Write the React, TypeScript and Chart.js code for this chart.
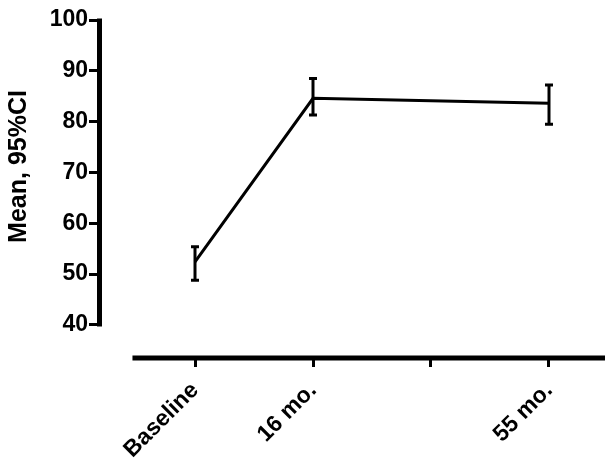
import React, { useEffect, useRef } from "react";
import { Chart, registerables } from "chart.js";

Chart.register(...registerables);

// ---- data ----
const categories = ["Baseline", "16 mo.", "", "55 mo."];
const means: (number | null)[] = [52.4, 84.6, null, 83.6];
const upper: (number | null)[] = [55.4, 88.5, null, 87.2];
const lower: (number | null)[] = [48.8, 81.3, null, 79.5];
const yTicks = [40, 50, 60, 70, 80, 90, 100];
const yTitle = "Mean, 95%CI";

const FONT = "'Liberation Sans', Arial, sans-serif";

const axisLinesPlugin = {
  id: "axisLines",
  afterDraw(chart: any) {
    const { ctx, chartArea, scales } = chart;
    const y = scales.y;
    const x = scales.x;
    ctx.save();
    ctx.strokeStyle = "#000";
    ctx.fillStyle = "#000";
    ctx.lineCap = "butt";
    // y axis line (from first to last tick)
    ctx.lineWidth = 5;
    const yTop = y.getPixelForValue(yTicks[yTicks.length - 1]);
    const yBot = y.getPixelForValue(yTicks[0]);
    ctx.beginPath();
    ctx.moveTo(chartArea.left + 0.5, yTop - 1.5);
    ctx.lineTo(chartArea.left + 0.5, yBot + 1.5);
    ctx.stroke();
    // x axis line (offset from y axis)
    ctx.lineWidth = 5;
    ctx.beginPath();
    ctx.moveTo(x.getPixelForValue(-0.53), chartArea.bottom);
    ctx.lineTo(chart.width, chartArea.bottom);
    ctx.stroke();
    // y axis title, centred on the tick range
    ctx.font = `bold 25px ${FONT}`;
    ctx.textAlign = "center";
    ctx.textBaseline = "middle";
    ctx.translate(19, (yTop + yBot) / 2 - 6);
    ctx.rotate(-Math.PI / 2);
    ctx.fillText(yTitle, 0, 0);
    ctx.restore();
  },
};

const errorBarsPlugin = {
  id: "errorBars",
  afterDatasetsDraw(chart: any) {
    const { ctx, scales } = chart;
    const x = scales.x;
    const y = scales.y;
    ctx.save();
    ctx.strokeStyle = "#000";
    ctx.lineWidth = 3;
    ctx.lineCap = "butt";
    categories.forEach((_, i) => {
      const lo = lower[i];
      const hi = upper[i];
      if (lo == null || hi == null) return;
      const px = x.getPixelForValue(i);
      const pLo = y.getPixelForValue(lo);
      const pHi = y.getPixelForValue(hi);
      ctx.beginPath();
      ctx.moveTo(px, pHi);
      ctx.lineTo(px, pLo);
      ctx.stroke();
      ctx.beginPath();
      ctx.moveTo(px - 4, pHi);
      ctx.lineTo(px + 4, pHi);
      ctx.moveTo(px - 4, pLo);
      ctx.lineTo(px + 4, pLo);
      ctx.stroke();
    });
    ctx.restore();
  },
};

export default function App() {
  const ref = useRef<HTMLCanvasElement | null>(null);

  useEffect(() => {
    if (!ref.current) return;
    const points = means
      .map((m, i) => (m == null ? null : { x: i, y: m }))
      .filter((p) => p !== null);

    const chart = new Chart(ref.current, {
      type: "line",
      data: {
        datasets: [
          {
            data: points as any,
            borderColor: "#000",
            borderWidth: 3,
            pointRadius: 0,
            tension: 0,
            fill: false,
          },
        ],
      },
      options: {
        responsive: false,
        animation: false,
        layout: { padding: { top: 20, right: 0, bottom: 0, left: 0 } },
        plugins: {
          legend: { display: false },
          tooltip: { enabled: false },
        },
        scales: {
          x: {
            type: "linear",
            min: -0.8136,
            max: 3.4746,
            afterBuildTicks: (scale: any) => {
              scale.ticks = categories.map((_, i) => ({ value: i }));
            },
            afterFit: (scale: any) => {
              scale.height = 108;
            },
            border: { display: false },
            grid: {
              drawOnChartArea: false,
              drawTicks: true,
              tickLength: 9,
              lineWidth: 3,
              color: "#000",
            },
            ticks: {
              autoSkip: false,
              minRotation: 45,
              maxRotation: 45,
              padding: 10,
              color: "#000",
              font: { family: FONT, size: 23, weight: "bold" },
              callback: (v: any) => categories[Math.round(Number(v))] ?? "",
            },
          },
          y: {
            type: "linear",
            min: 33.5,
            max: 100,
            afterBuildTicks: (scale: any) => {
              scale.ticks = yTicks.map((v) => ({ value: v }));
            },
            afterFit: (scale: any) => {
              scale.width = 99;
            },
            border: { display: false },
            grid: {
              drawOnChartArea: false,
              drawTicks: true,
              tickLength: 10,
              lineWidth: 3,
              color: "#000",
            },
            ticks: {
              padding: 1,
              color: "#000",
              font: { family: FONT, size: 23, weight: "bold" },
            },
          },
        },
      },
      plugins: [axisLinesPlugin, errorBarsPlugin],
    });
    return () => chart.destroy();
  }, []);

  return (
    <div style={{ position: "absolute", left: 0, top: 0, width: 605, height: 466, background: "#fff" }}>
      <canvas ref={ref} width={605} height={466} style={{ display: "block" }} />
    </div>
  );
}
